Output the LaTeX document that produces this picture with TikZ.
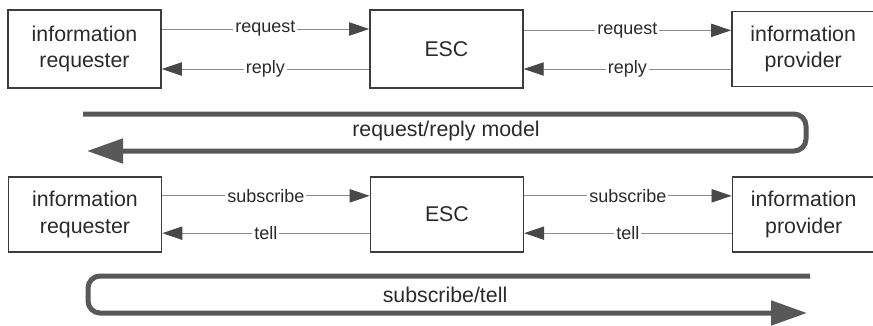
\documentclass[tikz,border=0pt]{standalone}
\usepackage{fontspec}
\setmainfont{Liberation Sans}
\usetikzlibrary{arrows.meta,positioning}
\definecolor{boxgray}{HTML}{3C3C3C}
\definecolor{linegray}{HTML}{8C8C8C}
\definecolor{headgray}{HTML}{484848}
\definecolor{bandgray}{HTML}{585858}
\definecolor{textgray}{HTML}{2A2A2A}

\begin{document}
\begin{tikzpicture}
    [x=0.75pt, y=-0.75pt,
        node distance=155.5pt,
    party/.style={draw=boxgray, line width=1.2pt, align=center, inner sep=0pt,
        minimum width=114.75pt, minimum height=58.5pt, text=textgray,
        font=\fontsize{16}{20}\selectfont},
    msg/.style={draw=linegray, line width=0.6pt, -{Triangle[length=15pt, width=10pt, color=headgray]}},
    lbl/.style={fill=white, inner sep=1.5pt, text=textgray, font=\fontsize{13.5}{16}\selectfont},
    band/.style={draw=bandgray, line width=3.75pt, rounded corners=9pt, -{Triangle[length=27pt, width=18pt]}},
    bandlbl/.style={text=textgray, font=\fontsize{16}{20}\selectfont}]
        \useasboundingbox (0,0) rectangle (873,325);
        % Request/reply model
        \node[party] (Q1) at (84.5,49) {information\\requester};
        \node[party, right=of Q1] (S1) {ESC};
        \node[party, right=of S1, minimum width=107pt, minimum height=56.25pt] (P1) {information\\provider};

        \draw[msg] ([yshift=15pt]Q1.east) -- node[lbl] {request} ([yshift=15pt]Q1.east -| S1.west);
        \draw[msg] ([yshift=-15pt]S1.west) -- node[lbl] {reply} ([yshift=-15pt]S1.west -| Q1.east);
        \draw[msg] ([yshift=14pt]S1.east) -- node[lbl] {request} ([yshift=14pt]S1.east -| P1.west);
        \draw[msg] ([yshift=-15pt]P1.west) -- node[lbl] {reply} ([yshift=-15pt]P1.west -| S1.east);

        \coordinate (A1) at (83,114);
        \coordinate (A2) at (806,114);
        \coordinate (A3) at (806,151);
        \coordinate (A4) at (87,151);
        \draw[band] (A1) -- (A2) -- (A3) -- (A4);
        \node[bandlbl] (M1) at (446,131) {request/reply model};

        % Subscribe/tell model
        \node[party, minimum height=56.25pt] (Q2) at (85,214.5) {information\\requester};
        \node[party, right=of Q2, minimum height=56.25pt] (S2) {ESC};
        \node[party, right=of S2, minimum width=107pt, minimum height=56.25pt] (P2) {information\\provider};

        \draw[msg] ([yshift=14pt]Q2.east) -- node[lbl] {subscribe} ([yshift=14pt]Q2.east -| S2.west);
        \draw[msg] ([yshift=-14pt]S2.west) -- node[lbl] {tell} ([yshift=-14pt]S2.west -| Q2.east);
        \draw[msg] ([yshift=14pt]S2.east) -- node[lbl] {subscribe} ([yshift=14pt]S2.east -| P2.west);
        \draw[msg] ([yshift=-14pt]P2.west) -- node[lbl] {tell} ([yshift=-14pt]P2.west -| S2.east);

        \coordinate (B1) at (810,276);
        \coordinate (B2) at (88,276);
        \coordinate (B3) at (88,313);
        \coordinate (B4) at (807,313);
        \draw[band] (B1) -- (B2) -- (B3) -- (B4);
        \node[bandlbl] (M2) at (445,295) {subscribe/tell};
    \end{tikzpicture}
\end{document}
